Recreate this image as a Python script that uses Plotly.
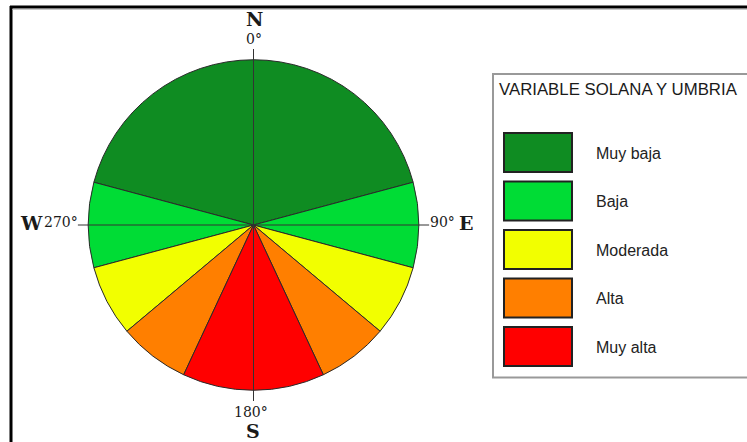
import plotly.graph_objects as go

# ---------------- data ----------------
categories = ["Muy baja", "Baja", "Moderada", "Alta", "Muy alta"]
category_colors = ["#0f8c22", "#00dc35", "#f2ff00", "#ff7f00", "#ff0000"]

# sectors of the compass rose (degrees, clockwise from north)
sector_category = ["Muy baja", "Baja", "Moderada", "Alta", "Muy alta", "Alta", "Moderada", "Baja"]
sector_from = [285, 75, 105, 130, 155, 205, 230, 255]
sector_to = [75, 105, 130, 155, 205, 230, 255, 285]
sector_r = [1, 1, 1, 1, 1, 1, 1, 1]

legend_title = "VARIABLE SOLANA Y UMBRIA"

W, H = 747, 442


def fx(x):
    return x / W


def fy(y):
    return 1 - y / H


fig = go.Figure()

for cat, col in zip(categories, category_colors):
    thetas, widths, rs = [], [], []
    for c, a0, a1, r in zip(sector_category, sector_from, sector_to, sector_r):
        if c != cat:
            continue
        w = (a1 - a0) % 360
        thetas.append((a0 + w / 2) % 360)
        widths.append(w)
        rs.append(r)
    fig.add_trace(go.Barpolar(
        r=rs, theta=thetas, width=widths, name=cat,
        marker=dict(color=col, line=dict(color="#2a2a2a", width=1)),
        hoverinfo="skip", showlegend=False,
    ))

R_EXT = 1.065
# cross lines N-S and W-E
fig.add_trace(go.Scatterpolar(r=[R_EXT, 0, R_EXT], theta=[0, 0, 180], mode="lines",
                              line=dict(color="#333333", width=1), hoverinfo="skip", showlegend=False))
fig.add_trace(go.Scatterpolar(r=[R_EXT, 0, R_EXT], theta=[90, 90, 270], mode="lines",
                              line=dict(color="#333333", width=1), hoverinfo="skip", showlegend=False))

cx, cy, half = 253.5, 225, 176
fig.update_layout(
    width=W, height=H, autosize=False,
    margin=dict(l=0, r=0, t=0, b=0),
    paper_bgcolor="white", plot_bgcolor="white",
    showlegend=False,
    polar=dict(
        domain=dict(x=[fx(cx - half), fx(cx + half)], y=[fy(cy + half), fy(cy - half)]),
        bgcolor="rgba(0,0,0,0)",
        bargap=0,
        radialaxis=dict(visible=False, range=[0, R_EXT]),
        angularaxis=dict(visible=False, rotation=90, direction="clockwise",
                         showgrid=False, showline=False, ticks=""),
    ),
)

serif = "DejaVu Serif"
ann = []


def add_text(x, y, t, size, bold=False, xanchor="center", family=serif, color="#1a1a1a"):
    ann.append(dict(x=fx(x), y=fy(y), xref="paper", yref="paper", text=("<b>%s</b>" % t) if bold else t,
                    showarrow=False, xanchor=xanchor, yanchor="middle",
                    font=dict(family=family, size=size, color=color)))


add_text(254, 19, "N", 19, bold=True)
add_text(254, 38.5, "0°", 14)
add_text(31.5, 223, "W", 19, bold=True)
add_text(61, 222, "270°", 14)
add_text(442, 222, "90°", 14)
add_text(466, 223, "E", 19, bold=True)
add_text(251, 412, "180°", 14)
add_text(252.5, 431, "S", 19, bold=True)

sans = "Liberation Sans, Arial, sans-serif"
add_text(497, 90, legend_title, 16.8, xanchor="left", family=sans)

shapes = []
# outer frame (top and left)
shapes.append(dict(type="line", xref="paper", yref="paper", x0=fx(10), x1=1.01, y0=fy(7), y1=fy(7),
                   line=dict(color="black", width=3)))
shapes.append(dict(type="line", xref="paper", yref="paper", x0=fx(11), x1=fx(11), y0=fy(6), y1=-0.01,
                   line=dict(color="black", width=3)))
shapes.append(dict(type="line", xref="paper", yref="paper", x0=fx(12.5), x1=1.01, y0=fy(9.5), y1=fy(9.5),
                   line=dict(color="#c8c8c8", width=1)))
# legend box
shapes.append(dict(type="rect", xref="paper", yref="paper", x0=fx(493), x1=1.02, y0=fy(377.5), y1=fy(74),
                   line=dict(color="#999999", width=2), fillcolor="rgba(0,0,0,0)"))

for i, (cat, col) in enumerate(zip(categories, category_colors)):
    top = 133 + i * 48.5
    shapes.append(dict(type="rect", xref="paper", yref="paper", x0=fx(504), x1=fx(572),
                       y0=fy(top + 39), y1=fy(top), line=dict(color="#222222", width=2), fillcolor=col))
    add_text(594, top + 20, cat, 16, xanchor="left", family=sans, color="#222222")

fig.update_layout(annotations=ann, shapes=shapes)

fig.write_html("out.html", config={"displayModeBar": False},
               post_script="document.body.style.margin='0';document.body.style.padding='0';")
